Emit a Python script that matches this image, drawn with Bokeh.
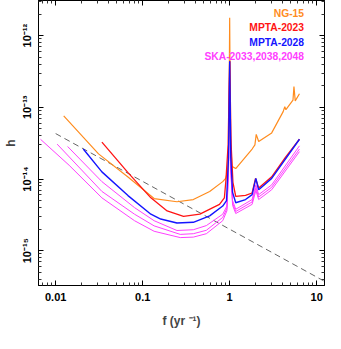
import math
from bokeh.plotting import figure
from bokeh.models import LogAxis, FixedTicker, Label, Range1d
from bokeh.embed import file_html
from bokeh.resources import INLINE

# ---------------- data ----------------
ng15_f = [0.01237, 0.0311, 0.0678, 0.1354, 0.2477, 0.382, 0.589, 0.832, 0.90, 0.95, 0.98, 1.0, 1.02,
          1.06, 1.174, 1.811, 1.95, 2.02, 2.155, 3.04, 4.12, 4.30, 4.43, 5.34, 5.48, 5.67, 6.34]
ng15_h = [7.6e-14, 2.24e-14, 1.064e-14, 5.34e-15, 4.82e-15, 5.17e-15, 6.71e-15, 9.19e-15, 1.02e-14,
          1.3e-14, 4e-14, 1.77e-12, 4e-14, 1.5e-14, 1.40e-14, 2.62e-14, 3.0e-14, 4.2e-14, 3.33e-14,
          4.4e-14, 8.71e-14, 1.02e-13, 9.27e-14, 1.257e-13, 1.95e-13, 1.23e-13, 1.545e-13]

mpta23_f = [0.0340, 0.0678, 0.1243, 0.1912, 0.2948, 0.4546, 0.6418, 0.764, 0.8693, 0.906, 0.96, 1.0,
            1.04, 1.09, 1.174, 1.522, 1.811, 1.983, 2.155, 3.04, 4.37, 6.34]
mpta23_h = [3.27e-14, 1.226e-14, 5.46e-15, 3.585e-15, 3.007e-15, 3.232e-15, 3.99e-15, 4.43e-15,
            5.46e-15, 9.69e-15, 3e-14, 4.4e-13, 3e-14, 9e-15, 5.74e-15, 5.92e-15, 6.38e-15, 1.02e-14,
            7.47e-15, 1.074e-14, 2.0e-14, 3.585e-14]

mpta28_f = [0.02078, 0.0340, 0.0678, 0.1243, 0.1611, 0.2477, 0.382, 0.589, 0.832, 0.92, 0.97, 1.0,
            1.03, 1.08, 1.174, 1.522, 1.811, 2.0, 2.155, 3.04, 6.34]
mpta28_h = [2.62e-14, 1.257e-14, 5.87e-15, 3.232e-15, 2.763e-15, 2.438e-15, 2.49e-15, 3.065e-15,
            4.195e-15, 5e-15, 2e-14, 4.4e-13, 2e-14, 6.5e-15, 4.67e-15, 5.17e-15, 6.05e-15, 1.02e-14,
            7.08e-15, 1.02e-14, 3.585e-14]

ska33_f = [0.01372, 0.0340, 0.0806, 0.1354, 0.2477, 0.382, 0.5395, 0.832, 0.93, 0.97, 1.0, 1.03,
           1.08, 1.174, 1.811, 2.0, 2.155, 3.04, 6.34]
ska33_h = [2.84e-14, 9.19e-15, 3.99e-15, 2.62e-15, 1.914e-15, 1.96e-15, 2.24e-15, 3.23e-15, 4.2e-15,
           1.5e-14, 4.4e-13, 1.5e-14, 5e-15, 3.78e-15, 5.17e-15, 8.3e-15, 6.05e-15, 8.28e-15, 2.90e-14]

ska38_f = [0.01040, 0.0340, 0.0806, 0.1354, 0.2706, 0.382, 0.5395, 0.832, 0.93, 0.97, 1.0, 1.03,
           1.08, 1.174, 1.811, 2.0, 2.155, 3.04, 6.34]
ska38_h = [3.065e-14, 6.71e-15, 3.23e-15, 2.22e-15, 1.688e-15, 1.726e-15, 1.926e-15, 2.914e-15,
           3.9e-15, 1.4e-14, 4.4e-13, 1.4e-14, 4.6e-15, 3.52e-15, 4.79e-15, 7.5e-15, 5.6e-15,
           7.66e-15, 2.62e-14]

ska48_f = [0.00669, 0.01430, 0.0340, 0.0806, 0.1354, 0.2706, 0.382, 0.5395, 0.832, 0.93, 0.97, 1.0,
           1.03, 1.08, 1.174, 1.811, 2.0, 2.155, 3.04, 6.34]
ska48_h = [3.585e-14, 1.552e-14, 5.46e-15, 2.62e-15, 1.866e-15, 1.523e-15, 1.547e-15, 1.726e-15,
           2.62e-15, 3.6e-15, 1.3e-14, 4.4e-13, 1.3e-14, 4.3e-15, 3.30e-15, 4.43e-15, 6.9e-15,
           5.17e-15, 7.08e-15, 2.41e-14]

gwb_f = [0.01, 12.0]
gwb_h = [4.3e-14, 3.8e-16]

x_major = [0.01, 0.1, 1, 10]
x_labels = ["0.01", "0.1", "1", "10"]
y_major = [1e-15, 1e-14, 1e-13, 1e-12]
y_labels = ["10\u207b\u00b9\u2075", "10\u207b\u00b9\u2074", "10\u207b\u00b9\u00b3", "10\u207b\u00b9\u00b2"]

legend_names = ["NG-15", "MPTA-2023", "MPTA-2028", "SKA-2033,2038,2048"]
# -----------------------------------------------------------------

ORANGE = "#ff8c1e"
RED = "#ff1414"
BLUE = "#1414ff"
MAGENTA = "#ff40ff"
FONT = "Liberation Sans"

x_minor = [m * 10.0 ** e for e in range(-3, 2) for m in range(2, 10)]
y_minor = [m * 10.0 ** e for e in range(-16, -11) for m in range(2, 10)]

p = figure(width=325, height=333, x_axis_type="log", y_axis_type="log",
           x_range=Range1d(0.00635, 12.3), y_range=Range1d(3.27e-16, 3.09e-12),
           output_backend="svg", toolbar_location=None,
           min_border_left=34, min_border_right=1, min_border_top=0, min_border_bottom=48)
p.xgrid.visible = False
p.ygrid.visible = False
p.outline_line_color = "black"
p.outline_line_width = 1
p.background_fill_color = "white"
p.border_fill_color = "white"


def style_axis(ax, ticks, minor, labels, show):
    ax.ticker = FixedTicker(ticks=ticks, minor_ticks=minor)
    ax.major_label_overrides = {(int(t) if t >= 1 else t): (lab if show else "") for t, lab in zip(ticks, labels)}
    ax.major_tick_in = 5
    ax.major_tick_out = 0
    ax.minor_tick_in = 3
    ax.minor_tick_out = 0
    ax.axis_line_color = "black"
    ax.axis_line_width = 1
    ax.major_tick_line_color = "black"
    ax.minor_tick_line_color = "#333333"
    ax.major_label_text_font = FONT
    ax.major_label_text_font_style = "bold"
    ax.major_label_text_color = "black"
    if show:
        ax.major_label_text_font_size = "11px"
    else:
        ax.major_label_text_font_size = "0px"
        ax.major_label_standoff = 0


style_axis(p.xaxis[0], x_major, x_minor, x_labels, True)
style_axis(p.yaxis[0], y_major, y_minor, y_labels, True)
p.xaxis[0].major_label_standoff = 7
p.yaxis[0].major_label_standoff = 5
p.yaxis[0].major_label_orientation = "vertical"

p.xaxis[0].axis_label = "f (yr \u207b\u00b9)"
p.xaxis[0].axis_label_text_font = FONT
p.xaxis[0].axis_label_text_font_style = "bold"
p.xaxis[0].axis_label_text_font_size = "12px"
p.xaxis[0].axis_label_standoff = 10

p.yaxis[0].axis_label = "h"
p.yaxis[0].axis_label_text_font = FONT
p.yaxis[0].axis_label_text_font_style = "bold"
p.yaxis[0].axis_label_text_font_size = "12px"
p.yaxis[0].axis_label_standoff = 1

top_ax = LogAxis()
style_axis(top_ax, x_major, x_minor, x_labels, False)
p.add_layout(top_ax, "above")
right_ax = LogAxis()
style_axis(right_ax, y_major, y_minor, y_labels, False)
p.add_layout(right_ax, "right")

# curves
p.line(gwb_f, gwb_h, line_color="#555555", line_width=0.9, line_dash="6 4")
for fs, hs in [(ska33_f, ska33_h), (ska38_f, ska38_h), (ska48_f, ska48_h)]:
    p.line(fs, hs, line_color=MAGENTA, line_width=1.0)
p.line(ng15_f, ng15_h, line_color=ORANGE, line_width=1.2)
p.line(mpta23_f, mpta23_h, line_color=RED, line_width=1.3)
p.line(mpta28_f, mpta28_h, line_color=BLUE, line_width=1.4)

# legend texts (right aligned, in data coordinates)
legend_colors = [ORANGE, RED, BLUE, MAGENTA]
legend_y = [2.007e-12, 1.281e-12, 8.12e-13, 5.09e-13]
for name, col, yy in zip(legend_names, legend_colors, legend_y):
    p.add_layout(Label(x=7.16, y=yy, text=name, text_color=col, text_font=FONT,
                       text_font_style="bold", text_font_size="10.3px",
                       text_align="right", text_baseline="alphabetic"))

# subscript "c" of the y-axis label h_c
p.add_layout(Label(x=0.00393, y=4.18e-14, text="c", angle=math.pi / 2, text_font=FONT,
                   text_font_style="bold", text_font_size="8px", text_align="center",
                   text_baseline="alphabetic", text_color="black"))

open("out.html", "w").write(file_html(p, INLINE))
